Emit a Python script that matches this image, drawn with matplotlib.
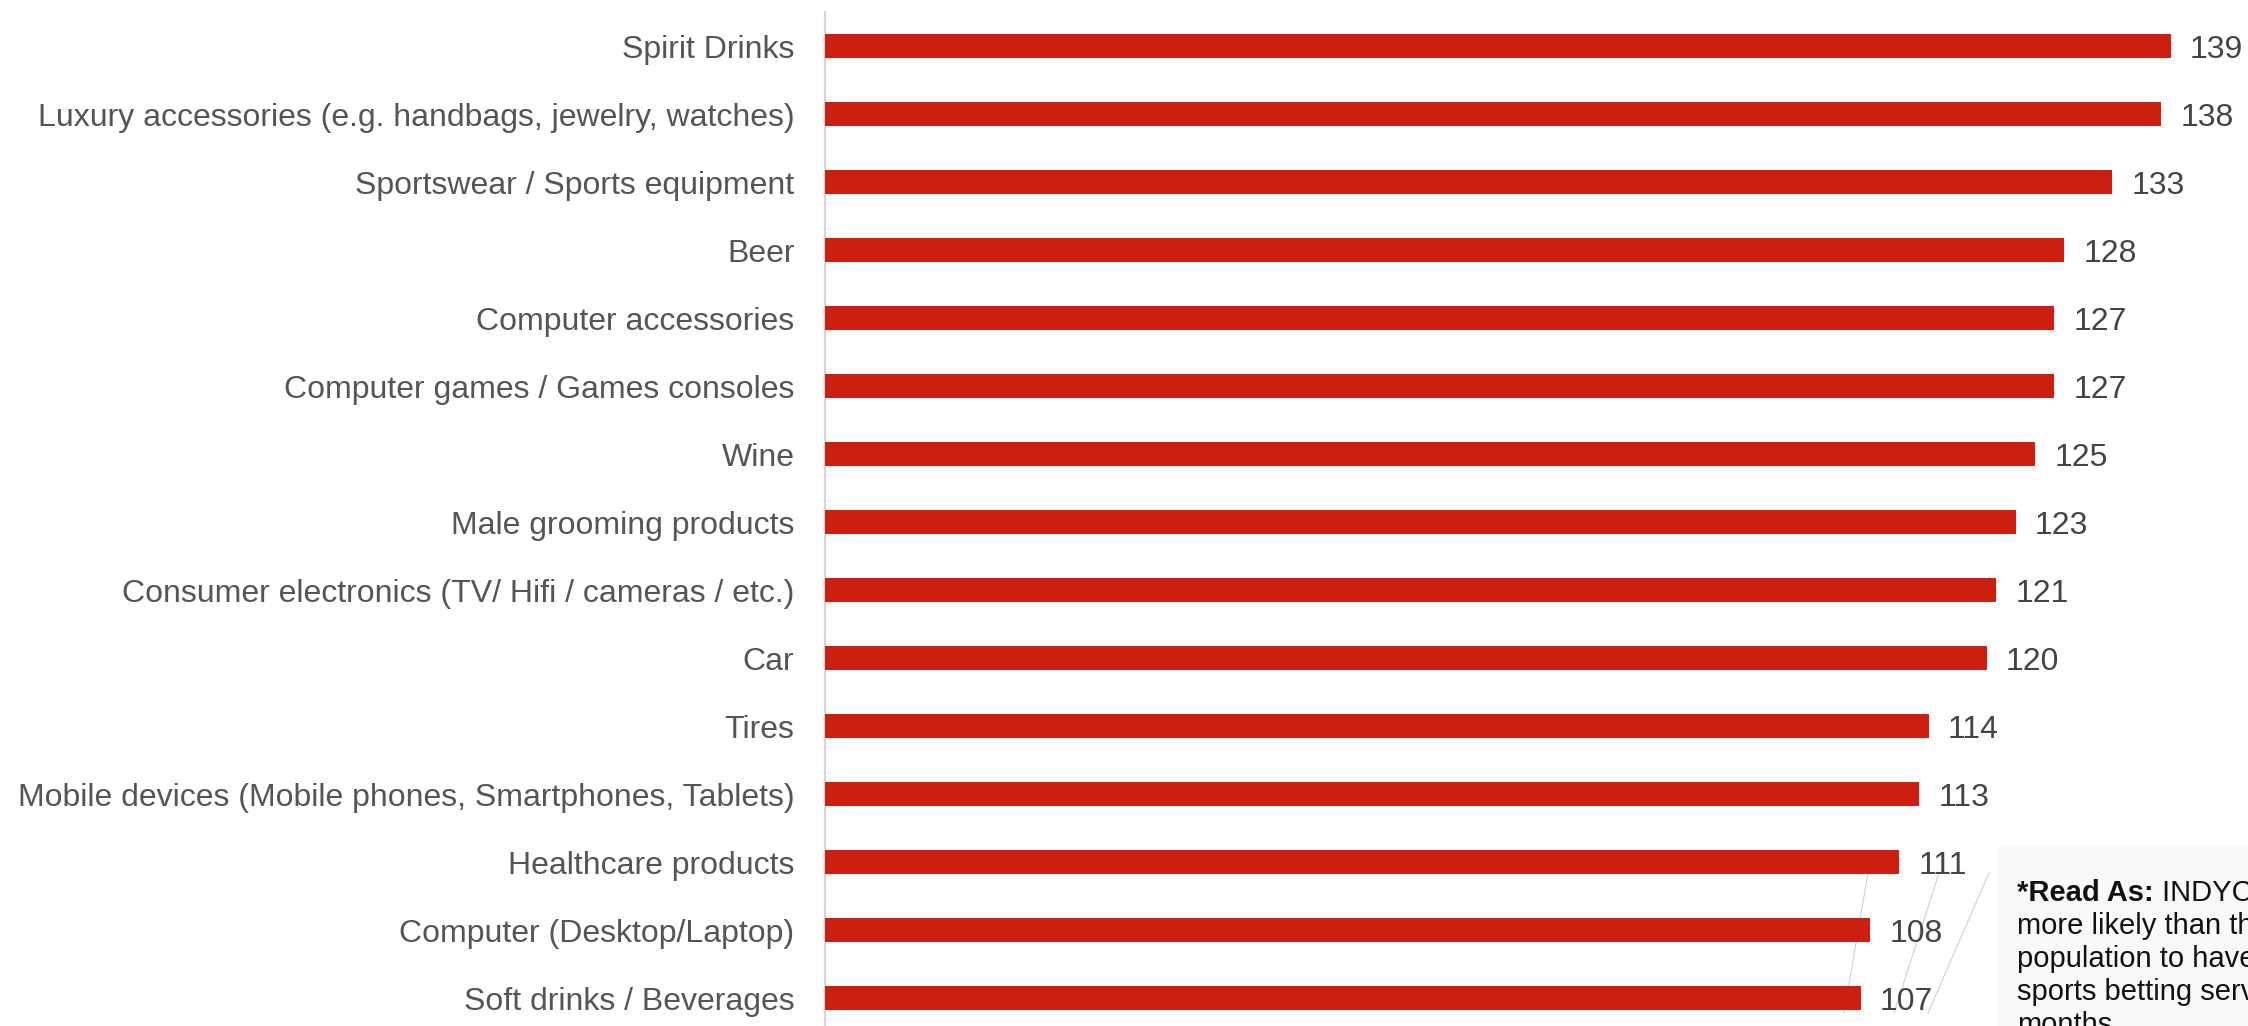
import matplotlib
matplotlib.use("Agg")
import matplotlib.pyplot as plt
from matplotlib.patches import Rectangle
from matplotlib.lines import Line2D

plt.rcParams['font.family'] = ['Liberation Sans', 'DejaVu Sans']

categories = [
    "Spirit Drinks",
    "Luxury accessories (e.g. handbags, jewelry, watches)",
    "Sportswear / Sports equipment",
    "Beer",
    "Computer accessories",
    "Computer games / Games consoles",
    "Wine",
    "Male grooming products",
    "Consumer electronics (TV/ Hifi / cameras / etc.)",
    "Car",
    "Tires",
    "Mobile devices (Mobile phones, Smartphones, Tablets)",
    "Healthcare products",
    "Computer (Desktop/Laptop)",
    "Soft drinks / Beverages",
]
index_values = [139, 138, 133, 128, 127, 127, 125, 123, 121, 120, 114, 113, 111, 108, 107]

note_head = "*Read As:"
note_lines = [
    " INDYCAR fans are",
    "more likely than the general",
    "population to have used",
    "sports betting services",
    "months",
]

W, H = 2248, 1026
fig = plt.figure(figsize=(W / 100, H / 100), dpi=100)
fig.patch.set_facecolor("white")

# axes: left edge at the vertical rule, runs to the right/bottom edges
ax_left, ax_top = 825, 12
ax = fig.add_axes([ax_left / W, 0, (W - ax_left) / W, (H - ax_top) / H])

ypos = list(range(len(categories)))
ax.barh(ypos, index_values, height=0.35, color="#cc1f0f", zorder=3)

for y, v in zip(ypos, index_values):
    ax.text(v + 2.0, y, str(v), va="center_baseline", ha="left",
            fontsize=23, color="#444444", zorder=4)

ax.set_xlim(0, (W - ax_left) / 9.68)
ax.set_ylim(14.41, -0.5)
ax.set_yticks(ypos)
ax.set_yticklabels(categories, fontsize=23, color="#555555")
ax.tick_params(axis="y", length=0, pad=22)
ax.set_xticks([])

for side in ["top", "right", "bottom"]:
    ax.spines[side].set_visible(False)
ax.spines["left"].set_color("#d5d5d5")
ax.spines["left"].set_linewidth(1.6)
ax.patch.set_alpha(0)

# faint guide lines behind the lower bars
for x0, x1 in [(1868, 1844), (1939, 1894), (1989, 1928)]:
    fig.add_artist(Line2D([x0 / W, x1 / W], [1 - 873 / H, 1 - 1013 / H],
                          color="#d0d0d0", linewidth=0.8, zorder=0))

# note box in the lower right corner
fig.add_artist(Rectangle((1997 / W, 0), (W - 1997) / W, (H - 846) / H,
                         facecolor="#f9f9f9", edgecolor="none", zorder=5))

baselines = [901, 934, 967, 1000, 1033]
head = fig.text(2017 / W, 1 - baselines[0] / H, note_head, fontsize=21,
                fontweight="bold", color="#111111", va="baseline", ha="left",
                zorder=6)
renderer = fig.canvas.get_renderer()
head_end = head.get_window_extent(renderer).x1
fig.text(head_end / W, 1 - baselines[0] / H, note_lines[0], fontsize=21,
         color="#111111", va="baseline", ha="left", zorder=6)
for line, b in zip(note_lines[1:], baselines[1:]):
    fig.text(2017 / W, 1 - b / H, line, fontsize=21, color="#111111",
             va="baseline", ha="left", zorder=6)

fig.savefig("out.png", dpi=100, facecolor="white")
